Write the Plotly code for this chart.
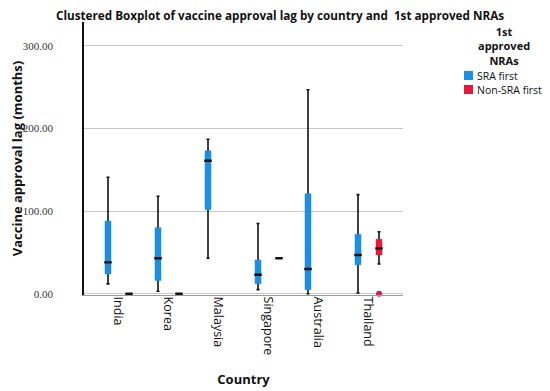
import plotly.graph_objects as go

countries = ["India", "Korea", "Malaysia", "Singapore", "Australia", "Thailand"]

# SRA first (blue)
sra_low = [12, 3, 43, 5, 0, 1]
sra_q1 = [24, 16, 102, 12, 5, 35]
sra_med = [38, 43, 161, 23, 30, 47]
sra_q3 = [88, 80, 173, 41, 121, 72]
sra_high = [141, 118, 187, 85, 247, 120]

# Non-SRA first (red)
non_idx = [0, 1, 3, 5]
non_low = [0, 0, 43, 36]
non_q1 = [0, 0, 43, 47]
non_med = [0, 0, 43, 55]
non_q3 = [0, 0, 43, 66]
non_high = [0, 0, 43, 75]
non_outlier_idx = [5]
non_outlier_val = [0]

groups = ["SRA first", "Non-SRA first"]
y_ticks = [0, 100, 200, 300]
y_tick_text = ["0.00", "100.00", "200.00", "300.00"]

BLUE = "#1a8fe3"
RED = "#e8173c"
OFF = 0.21
BW = 0.12

# page body has an 8px default margin: size the figure to fit the window
PAGE = 8
W, H = 550 - PAGE, 391 - PAGE
ML, MR, MT, MB = 84 - PAGE, 147, 22 - PAGE, 96
PW, PH = W - ML - MR, H - MT - MB

def px(x):
    return (x - PAGE - ML) / PW

def py(y):
    return (H - MB - (y - PAGE)) / PH

fig = go.Figure()

def add_group(xs, low, q1, med, q3, high, color):
    fig.add_trace(go.Box(x=xs, lowerfence=low, q1=med, median=med, q3=med, upperfence=high,
                         width=BW, whiskerwidth=0.5, line=dict(color="#111111", width=1.6),
                         fillcolor="rgba(0,0,0,0)", showlegend=False, hoverinfo="skip"))
    fig.add_trace(go.Box(x=xs, lowerfence=q1, q1=q1, median=med, q3=q3, upperfence=q3,
                         width=BW, whiskerwidth=0, line=dict(color=color, width=0.5),
                         fillcolor=color, showlegend=False, hoverinfo="skip"))
    fig.add_trace(go.Box(x=xs, lowerfence=med, q1=med, median=med, q3=med, upperfence=med,
                         width=BW * 1.25, whiskerwidth=0, line=dict(color="#111111", width=2.4),
                         fillcolor="rgba(0,0,0,0)", showlegend=False, hoverinfo="skip"))

sra_x = [i - OFF for i in range(len(countries))]
add_group(sra_x, sra_low, sra_q1, sra_med, sra_q3, sra_high, BLUE)

non_x = [i + OFF for i in non_idx]
add_group(non_x, non_low, non_q1, non_med, non_q3, non_high, RED)

fig.add_trace(go.Scatter(x=[i + OFF for i in non_outlier_idx], y=non_outlier_val, mode="markers",
                         marker=dict(color=RED, size=6, symbol="circle"), showlegend=False,
                         cliponaxis=False, hoverinfo="skip"))

# legend (drawn manually for compact spacing)
annotations = [dict(text="<b>1st<br>approved<br>NRAs</b>", xref="paper", yref="paper",
                    x=px(504), y=py(46), xanchor="center", yanchor="middle", showarrow=False,
                    align="center", font=dict(size=11, family="Open Sans", color="#111111"))]
shapes = []
for k, (name, col) in enumerate(zip(groups, [BLUE, RED])):
    yc = 75.5 + 14 * k
    shapes.append(dict(type="rect", xref="paper", yref="paper",
                       x0=px(464), x1=px(473), y0=py(yc + 4.5), y1=py(yc - 4.5),
                       fillcolor=col, line=dict(width=0)))
    annotations.append(dict(text=name, xref="paper", yref="paper", x=px(475), y=py(yc),
                            xanchor="left", yanchor="middle", showarrow=False,
                            font=dict(size=10.5, family="Open Sans", color="#111111")))

fig.update_layout(
    width=W, height=H,
    margin=dict(l=ML, r=MR, t=MT, b=MB),
    paper_bgcolor="white", plot_bgcolor="white",
    boxmode="overlay",
    font=dict(family="Open Sans", color="#111111"),
    title=dict(text="<b>Clustered Boxplot of vaccine approval lag by country and  1st approved NRAs</b>",
               x=(280 - PAGE) / W, xanchor="center", y=1.0, yanchor="top", pad=dict(t=4),
               font=dict(size=11.7, family="Open Sans", color="#111111")),
    showlegend=False,
    annotations=annotations,
    shapes=shapes,
)

fig.update_xaxes(
    automargin=False,
    tickmode="array", tickvals=list(range(len(countries))), ticktext=countries,
    tickangle=90, range=[-0.69, 5.69], showgrid=False, zeroline=False,
    showline=True, linecolor="#9a9a9a", linewidth=1.2, ticks="",
    ticklabelstandoff=-2,
    tickfont=dict(size=12.5, family="Open Sans", color="#111111"),
    title=dict(text="<b>Country</b>", font=dict(size=13, family="Open Sans"), standoff=20),
)
fig.update_yaxes(
    automargin=False,
    tickmode="array", tickvals=y_ticks, ticktext=y_tick_text,
    range=[-1.5, 329], showgrid=True, gridcolor="#c8c8c8", gridwidth=1, zeroline=False,
    showline=True, linecolor="#111111", linewidth=1.6, ticks="",
    ticklabelstandoff=27,
    tickfont=dict(size=11, family="Liberation Serif", color="#333333"),
    title=dict(text="<b>Vaccine approval lag (months)</b>", font=dict(size=13, family="Open Sans"), standoff=5),
)

fig.write_html("out.html")
